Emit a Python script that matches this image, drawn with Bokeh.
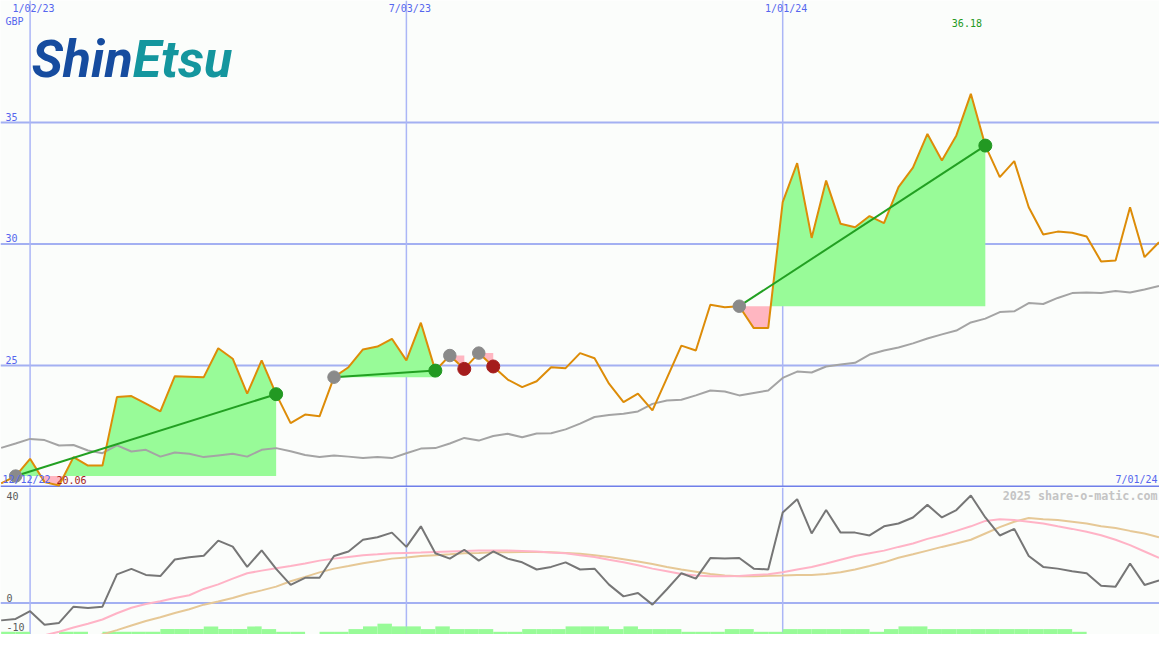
import numpy as np
from bokeh.plotting import figure
from bokeh.layouts import column
from bokeh.models import Range1d, Span
from bokeh.core.properties import value
from bokeh.embed import file_html
from bokeh.resources import INLINE

# ---------------- data (weekly, week 0 = w/c 19 Dec 2022) ----------------
weeks = list(range(81))
price = [20.15, 20.45, 21.16, 20.20, 20.06, 21.23, 20.88, 20.88, 23.70, 23.74,
         23.43, 23.11, 24.56, 24.54, 24.52, 25.71, 25.28, 23.84, 25.21, 23.82,
         22.63, 22.98, 22.91, 24.52, 24.93, 25.66, 25.78, 26.10, 25.21, 26.76,
         24.79, 25.41, 24.86, 25.51, 24.96, 24.42, 24.11, 24.35, 24.93, 24.89,
         25.51, 25.30, 24.25, 23.49, 23.84, 23.15, 24.48, 25.82, 25.62, 27.50,
         27.40, 27.44, 26.54, 26.54, 31.72, 33.33, 30.25, 32.61, 30.83, 30.69,
         31.15, 30.86, 32.34, 33.14, 34.53, 33.44, 34.47, 36.18, 34.05, 32.75,
         33.41, 31.51, 30.39, 30.51, 30.46, 30.31, 29.28, 29.32, 31.51, 29.46,
         30.07]
slow_avg = [21.61, 21.79, 21.98, 21.93, 21.71, 21.73, 21.50, 21.39, 21.71, 21.46,
            21.53, 21.25, 21.42, 21.37, 21.23, 21.30, 21.37, 21.25, 21.53, 21.60,
            21.47, 21.32, 21.23, 21.30, 21.25, 21.19, 21.23, 21.19, 21.39, 21.58,
            21.60, 21.79, 22.02, 21.91, 22.10, 22.19, 22.05, 22.20, 22.21, 22.37,
            22.61, 22.88, 22.96, 23.01, 23.11, 23.42, 23.56, 23.59, 23.77, 23.97,
            23.93, 23.77, 23.87, 23.97, 24.49, 24.75, 24.71, 24.96, 25.04, 25.11,
            25.45, 25.62, 25.74, 25.91, 26.11, 26.28, 26.44, 26.77, 26.93, 27.20,
            27.23, 27.57, 27.53, 27.78, 27.98, 28.00, 27.98, 28.07, 28.00, 28.13,
            28.27]
momentum = [-6.1, -5.6, -2.9, -7.6, -7.0, -1.3, -1.8, -1.3, 10.0, 11.9,
            9.8, 9.4, 15.2, 16.0, 16.5, 21.8, 19.7, 12.6, 18.4, 11.9,
            6.3, 8.8, 8.8, 16.4, 18.0, 22.1, 23.0, 24.6, 19.6, 26.8,
            17.4, 15.5, 18.6, 14.8, 18.0, 15.5, 14.2, 11.7, 12.6, 14.2,
            11.7, 12.0, 6.4, 2.3, 3.5, -0.6, 4.8, 10.4, 8.5, 15.7,
            15.5, 15.7, 12.0, 11.7, 31.6, 36.3, 24.3, 32.5, 24.6, 24.6,
            23.6, 26.8, 27.8, 29.9, 34.3, 29.9, 32.5, 37.6, 29.9, 23.6,
            25.9, 16.4, 12.6, 12.0, 11.1, 10.4, 6.0, 5.7, 13.8, 6.3,
            7.9]
mom_fast = [-15.6, -14.2, -12.8, -11.3, -10.1, -8.6, -7.3, -5.8, -3.6, -1.7,
            -0.4, 0.6, 1.7, 2.7, 4.9, 6.5, 8.5, 10.4, 11.3, 12.1,
            12.9, 13.8, 14.8, 15.5, 16.1, 16.7, 17.0, 17.4, 17.5, 17.6,
            17.8, 18.0, 18.2, 18.3, 18.3, 18.3, 18.2, 18.0, 17.6, 17.4,
            16.7, 16.1, 15.1, 14.2, 13.2, 12.0, 11.1, 10.1, 9.6, 9.3,
            9.3, 9.4, 9.8, 10.0, 10.7, 11.7, 12.6, 13.8, 15.1, 16.4,
            17.4, 18.3, 19.6, 20.8, 22.4, 23.7, 25.2, 26.8, 28.7, 29.3,
            29.0, 28.4, 27.8, 26.8, 25.9, 24.9, 23.7, 22.1, 20.2, 18.0,
            15.8]
mom_slow = [-22.1, -20.5, -18.9, -17.4, -15.8, -14.2, -12.6, -11.0, -9.5, -7.9,
            -6.3, -5.0, -3.5, -2.2, -0.6, 0.5, 1.7, 3.2, 4.4, 5.7,
            7.6, 9.1, 10.7, 12.0, 12.9, 13.9, 14.7, 15.5, 15.9, 16.4,
            16.7, 17.0, 17.4, 17.5, 17.7, 17.7, 17.8, 17.8, 17.7, 17.5,
            17.2, 16.7, 16.1, 15.3, 14.5, 13.6, 12.6, 11.7, 10.9, 10.1,
            9.6, 9.3, 9.3, 9.5, 9.6, 9.8, 9.8, 10.1, 10.7, 11.7,
            12.9, 14.2, 15.8, 17.0, 18.3, 19.6, 20.8, 22.1, 24.3, 26.5,
            28.4, 29.7, 29.3, 29.0, 28.4, 27.8, 26.8, 26.2, 25.2, 24.3,
            23.0]
volume = [1, 1, 0, 0, 1, 1, 0, 1, 1, 1,
          1, 2, 2, 2, 3, 2, 2, 3, 2, 1,
          1, 0, 1, 1, 2, 3, 4, 3, 3, 2,
          3, 2, 2, 2, 1, 1, 2, 2, 2, 3,
          3, 3, 2, 3, 2, 2, 2, 1, 1, 1,
          2, 2, 1, 1, 2, 2, 2, 2, 2, 2,
          1, 2, 3, 3, 2, 2, 2, 2, 2, 2,
          2, 2, 2, 2, 1, 0, 0, 0, 0, 0,
          0]
entry_week = [1, 23, 31, 33, 51]
exit_week = [19, 30, 32, 34, 68]

date_ticks = [2, 28, 54]
date_labels = ["1/02/23", "7/03/23", "1/01/24"]
price_ticks = [25, 30, 35]
price_tick_labels = ["25", "30", "35"]
mom_grid = [0]
mom_label_values = [40, 0, -10]
mom_labels = ["40", "0", "-10"]
start_label = "12/12/22"
end_label = "7/01/24"
currency = "GBP"
credit = "2025 share-o-matic.com"

# ---------------- layout helpers (reference-pixel geometry) ----------------
W = 1159
H1 = 487
H2 = 147
PXW = 14.673          # px per week
X0 = 0.654            # px of week 0
def kx(px):
    return (px - X0) / PXW
TOP_PX = 24.3         # px per GBP
def ty(px):
    return 35 - (px - 122) / TOP_PX
BOT_PX = 3.17
def by(px):
    return (615 - px) / BOT_PX

BG = "#fbfdfb"
BLUE_TXT = "#5566ee"
GRID_H = "#a3b0f2"
GRID_V = "#abb6f6"
MONO = value("DejaVu Sans Mono")

xr = Range1d(kx(0), kx(1175))

# ---------------- top panel ----------------
p = figure(width=W, height=H1, x_range=xr, y_range=Range1d(ty(487), ty(0)),
           output_backend="svg", toolbar_location=None,
           x_axis_location=None, y_axis_location=None, min_border=0)
p.xgrid.visible = False
p.ygrid.visible = False
p.outline_line_color = None
p.background_fill_color = BG
p.border_fill_color = BG

for t in price_ticks:
    p.add_layout(Span(location=t, dimension="width", line_color=GRID_H,
                      line_width=2, level="underlay"))
for t in date_ticks:
    p.add_layout(Span(location=t, dimension="height", line_color=GRID_V,
                      line_width=1.5, level="underlay"))
p.add_layout(Span(location=ty(486.3), dimension="width", line_color="#6f7fe9",
                  line_width=2.5, level="underlay"))

wk = np.array(weeks, dtype=float)
pr = np.array(price, dtype=float)

# trade fills
for a, b in zip(entry_week, exit_week):
    E = pr[a]
    xs, ys = [wk[a]], [pr[a]]
    for j in range(a, b):
        p0, p1 = pr[j], pr[j + 1]
        if (p0 - E) * (p1 - E) < 0:
            t = (E - p0) / (p1 - p0)
            xs.append(wk[j] + t)
            ys.append(E)
        xs.append(wk[j + 1])
        ys.append(p1)
    xs = np.array(xs)
    ys = np.array(ys)
    p.varea(x=xs, y1=np.full(len(xs), E), y2=np.maximum(ys, E),
            fill_color="#98fb98", fill_alpha=1.0)
    p.varea(x=xs, y1=np.minimum(ys, E), y2=np.full(len(xs), E),
            fill_color="#ffb6c1", fill_alpha=1.0)

p.line(weeks, slow_avg, line_color="#a4a4a4", line_width=2)
p.line(weeks, price, line_color="#dd8c08", line_width=2)

win = [(a, b) for a, b in zip(entry_week, exit_week) if pr[b] > pr[a]]
p.segment(x0=[a for a, b in win], y0=[pr[a] for a, b in win],
          x1=[b for a, b in win], y1=[pr[b] for a, b in win],
          line_color="#22a022", line_width=2)
p.scatter(entry_week, [pr[a] for a in entry_week], size=12.5,
          color="#8a8a8a", marker="circle")
p.scatter(exit_week, [pr[b] for b in exit_week], size=13,
          color=["#229922" if pr[b] > pr[a] else "#a41c1c"
                 for a, b in zip(entry_week, exit_week)], marker="circle")

# labels (all vertically centred)
p.text(x=[t + 3.5 / PXW for t in date_ticks], y=[ty(8)] * len(date_ticks),
       text=date_labels, text_font=MONO, text_font_size="10px",
       text_color=BLUE_TXT, text_align="center", text_baseline="middle")
p.text(x=[kx(5)], y=[ty(21)], text=[currency], text_font=MONO,
       text_font_size="10px", text_color=BLUE_TXT, text_align="left",
       text_baseline="middle")
p.text(x=[kx(5)] * len(price_ticks), y=[t + 5.7 / TOP_PX for t in price_ticks],
       text=price_tick_labels, text_font=MONO, text_font_size="10px",
       text_color=BLUE_TXT, text_align="left", text_baseline="middle")
p.text(x=[kx(2)], y=[ty(479)], text=[start_label], text_font=MONO,
       text_font_size="10px", text_color=BLUE_TXT, text_align="left",
       text_baseline="middle")
p.text(x=[kx(1173)], y=[ty(479)], text=[end_label], text_font=MONO,
       text_font_size="10px", text_color=BLUE_TXT, text_align="right",
       text_baseline="middle")
kmax = int(np.argmax(pr))
kmin = int(np.argmin(pr))
p.text(x=[kmax - 4 / PXW], y=[ty(22)], text=[f"{pr[kmax]:.2f}"], text_font=MONO,
       text_font_size="10px", text_color="#229922", text_align="center",
       text_baseline="middle")
p.text(x=[kmin - 2.6 / PXW], y=[ty(479.3)], text=[f"{pr[kmin]:.2f}"],
       text_font=MONO, text_font_size="10px", text_color="#a41c1c",
       text_align="left", text_baseline="middle")
# logo
p.text(x=[kx(134)], y=[ty(59)], text=["Shin"], text_font=value("Roboto"),
       text_font_style="bold italic", text_font_size="52px",
       text_color="#164c9f", text_align="right", text_baseline="middle")
p.text(x=[kx(134)], y=[ty(59)], text=["Etsu"], text_font=value("Roboto"),
       text_font_style="bold italic", text_font_size="52px",
       text_color="#14969e", text_align="left", text_baseline="middle")

# ---------------- bottom panel ----------------
q = figure(width=W, height=H2, x_range=xr, y_range=Range1d(by(650), by(487)),
           output_backend="svg", toolbar_location=None,
           x_axis_location=None, y_axis_location=None, min_border=0)
q.xgrid.visible = False
q.ygrid.visible = False
q.outline_line_color = None
q.background_fill_color = BG
q.border_fill_color = BG
q.extra_y_ranges = {"vol": Range1d(0, 163 / 3.0)}

for t in mom_grid:
    q.add_layout(Span(location=t, dimension="width", line_color=GRID_H,
                      line_width=2, level="underlay"))
for t in date_ticks:
    q.add_layout(Span(location=t, dimension="height", line_color=GRID_V,
                      line_width=1.5, level="underlay"))

q.vbar(x=[w + 0.5 for w in weeks], top=volume, bottom=0, width=1.0,
       y_range_name="vol", fill_color="#98fb98", line_color=None)
q.line(weeks, mom_slow, line_color="#e6c896", line_width=2)
q.line(weeks, mom_fast, line_color="#ffb3c6", line_width=2)
q.line(weeks, momentum, line_color="#767676", line_width=2)

q.text(x=[kx(6)] * len(mom_labels),
       y=[min(v + 5.5 / BOT_PX, by(496)) for v in mom_label_values],
       text=mom_labels, text_font=MONO, text_font_size="10px",
       text_color="#5a5a5a", text_align="left", text_baseline="middle")
q.text(x=[kx(1173)], y=[by(496)], text=[credit], text_font=MONO,
       text_font_style="bold", text_font_size="11.7px", text_color="#c4c4c4",
       text_align="right", text_baseline="middle")

layout = column(p, q, spacing=0)
open("out.html", "w").write(file_html(layout, INLINE))
